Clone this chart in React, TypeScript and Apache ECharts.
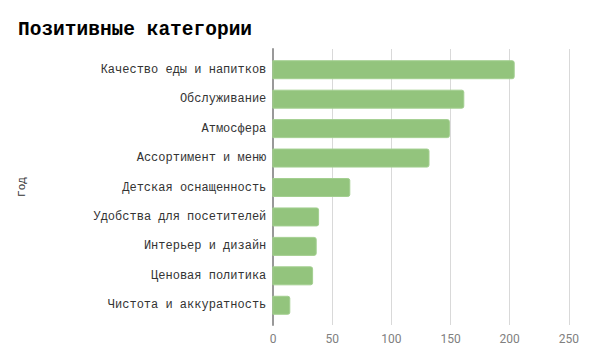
import React, { useEffect, useRef } from "react";
import * as echarts from "echarts";

const categories = [
  "Качество еды и напитков",
  "Обслуживание",
  "Атмосфера",
  "Ассортимент и меню",
  "Детская оснащенность",
  "Удобства для посетителей",
  "Интерьер и дизайн",
  "Ценовая политика",
  "Чистота и аккуратность",
];
const values = [202, 160, 148, 131, 65, 39, 37, 34, 15];
const xTicks = [0, 50, 100, 150, 200, 250];

const MONO = "'Courier New', 'Liberation Mono', monospace";

export default function App() {
  const ref = useRef<HTMLDivElement>(null);
  useEffect(() => {
    const chart = echarts.init(ref.current!, null, { renderer: "svg" });
    const xMin = xTicks[0];
    const xMax = xTicks[xTicks.length - 1];
    chart.setOption({
      animation: false,
      backgroundColor: "#fff",
      title: {
        text: "Позитивные категории",
        left: 5,
        top: 7,
        textStyle: {
          fontFamily: MONO,
          fontWeight: "bold",
          fontSize: 19.5,
          color: "#000",
        },
      },
      grid: [
        { left: 264.3, right: 9.7, top: 47, bottom: 33 },
        { left: 264.3, right: 9.7, top: 41, bottom: 28 },
      ],
      xAxis: [
        {
          type: "value",
          gridIndex: 0,
          min: xMin,
          max: xMax,
          interval: 50,
          show: false,
          splitLine: { show: false },
        },
        {
          type: "value",
          gridIndex: 1,
          min: xMin,
          max: xMax,
          interval: 50,
          axisLine: { show: false },
          axisTick: { show: false },
          splitLine: { lineStyle: { color: "#d9d9d9" } },
          axisLabel: { color: "#808080", fontFamily: "Roboto", fontSize: 12, margin: 8 },
        },
      ],
      yAxis: [
        {
          type: "category",
          gridIndex: 0,
          data: categories,
          inverse: true,
          axisLine: { show: false },
          axisTick: { show: false },
          axisLabel: { color: "#333", fontFamily: MONO, fontSize: 12, margin: 6 },
        },
        {
          type: "category",
          gridIndex: 1,
          data: categories,
          inverse: true,
          name: "Год",
          nameLocation: "middle",
          nameGap: 246,
          nameRotate: 90,
          nameTextStyle: { fontFamily: MONO, fontSize: 11, color: "#333" },
          axisLine: { show: true, lineStyle: { color: "#999", width: 2 } },
          axisTick: { show: false },
          axisLabel: { show: false },
        },
      ],
      series: [
        {
          type: "bar",
          xAxisIndex: 0,
          yAxisIndex: 0,
          data: values,
          barWidth: 19,
          itemStyle: {
            color: "#93c47d",
            borderColor: "#a3cf90",
            borderWidth: 1,
            borderRadius: [0, 2, 2, 0],
          },
        },
      ],
    });
    return () => chart.dispose();
  }, []);
  return <div ref={ref} style={{ width: 574, height: 345 }} />;
}
